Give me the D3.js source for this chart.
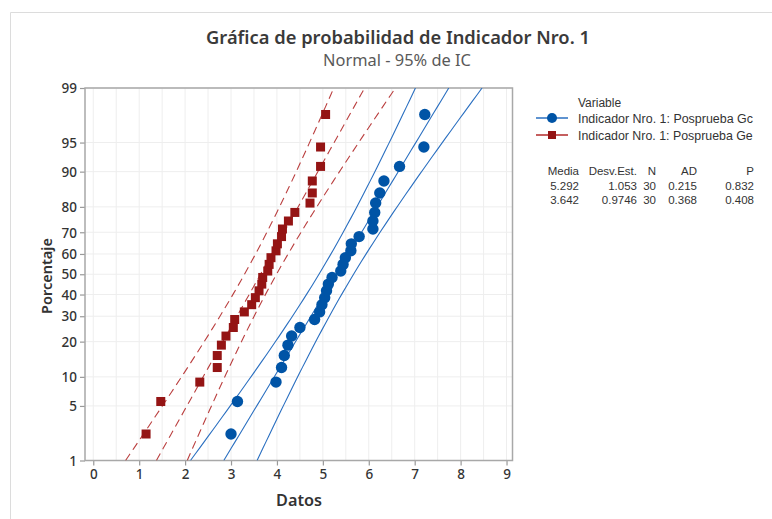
<!DOCTYPE html>
<html><head><meta charset="utf-8">
<script src="https://cdn.jsdelivr.net/npm/d3@7"></script>
<style>
html,body{margin:0;padding:0;background:#fff;}
text{font-family:"Noto Sans","Open Sans",sans-serif;}
</style></head>
<body><svg id="c" width="772" height="519"></svg>
<script>
// ---- data ----
const seriesNames = ["Indicador Nro. 1: Posprueba Gc", "Indicador Nro. 1: Posprueba Ge"];
const percentiles = [2.3, 5.6, 8.9, 12.2, 15.5, 18.8, 22.0, 25.3, 28.6, 31.9, 35.2, 38.5, 41.8, 45.1, 48.4,
                     51.6, 54.9, 58.2, 61.5, 64.8, 68.1, 71.4, 74.7, 78.0, 81.3, 84.5, 87.8, 91.1, 94.4, 97.7];
const gcValues = [3.00, 3.14, 3.98, 4.10, 4.16, 4.24, 4.32, 4.50, 4.82, 4.93, 4.98, 5.04, 5.08, 5.12, 5.20,
                  5.39, 5.44, 5.49, 5.61, 5.62, 5.79, 6.09, 6.09, 6.13, 6.15, 6.24, 6.33, 6.67, 7.20, 7.22];
const geValues = [1.15, 1.47, 2.32, 2.70, 2.70, 2.79, 2.89, 3.05, 3.08, 3.29, 3.45, 3.53, 3.61, 3.67, 3.69,
                  3.80, 3.83, 3.87, 3.98, 4.01, 4.10, 4.12, 4.25, 4.39, 4.72, 4.77, 4.77, 4.95, 4.95, 5.06];
const means = [5.292, 3.642];
const stdevs = [1.053, 0.9746];
const counts = [30, 30];
const adStats = [0.215, 0.368];
const pValues = [0.832, 0.408];
const statHeaders = ["Media", "Desv.Est.", "N", "AD", "P"];
const statRows = [["5.292", "1.053", "30", "0.215", "0.832"], ["3.642", "0.9746", "30", "0.368", "0.408"]];
const xTicks = [0, 1, 2, 3, 4, 5, 6, 7, 8, 9];
const yTicks = [1, 5, 10, 20, 30, 40, 50, 60, 70, 80, 90, 95, 99];
const colors = ["#0054a6", "#941414"];
const lineColors = ["#2a6fc0", "#b22a2a"];

// inverse normal CDF (Acklam)
function qnorm(p){
  const a=[-3.969683028665376e+01,2.209460984245205e+02,-2.759285104469687e+02,1.383577518672690e+02,-3.066479806614716e+01,2.506628277459239e+00];
  const b=[-5.447609879822406e+01,1.615858368580409e+02,-1.556989798598866e+02,6.680131188771972e+01,-1.328068155288572e+01];
  const c=[-7.784894002430293e-03,-3.223964580411365e-01,-2.400758277161838e+00,-2.549671500663394e+00,4.374664141464968e+00,2.938163982698783e+00];
  const d=[7.784695709041462e-03,3.224671290700398e-01,2.445134137142996e+00,3.754408661907416e+00];
  const pl=0.02425, ph=1-pl; let q,r;
  if(p<pl){q=Math.sqrt(-2*Math.log(p));return (((((c[0]*q+c[1])*q+c[2])*q+c[3])*q+c[4])*q+c[5])/((((d[0]*q+d[1])*q+d[2])*q+d[3])*q+1);}
  if(p<=ph){q=p-0.5;r=q*q;return (((((a[0]*r+a[1])*r+a[2])*r+a[3])*r+a[4])*r+a[5])*q/(((((b[0]*r+b[1])*r+b[2])*r+b[3])*r+b[4])*r+1);}
  q=Math.sqrt(-2*Math.log(1-p));return -(((((c[0]*q+c[1])*q+c[2])*q+c[3])*q+c[4])*q+c[5])/((((d[0]*q+d[1])*q+d[2])*q+d[3])*q+1);
}

const svg = d3.select("#c");
const L=85, R=512.5, T=88, B=460.5;
const x = d3.scaleLinear().domain([-0.18, 9.13]).range([L, R]);
const yz = d3.scaleLinear().domain([qnorm(0.01), qnorm(0.99)]).range([B, T]);
const y = p => yz(qnorm(p/100));

function fit(sel, w){
  const n = sel.node(); const fs = parseFloat(sel.attr("font-size"));
  const m = n.getComputedTextLength(); sel.attr("font-size", fs*w/m);
  return sel;
}

// outer frame
svg.append("path").attr("d","M10.5,519 V12.5 H772").attr("fill","none").attr("stroke","#dcdcdc").attr("stroke-width",1);

// title
fit(svg.append("text").attr("x",398).attr("y",44).attr("text-anchor","middle").attr("font-size",19)
  .attr("font-weight",600).attr("fill","#3a3a3a").text("Gráfica de probabilidad de Indicador Nro. 1"),384);
fit(svg.append("text").attr("x",397).attr("y",66).attr("text-anchor","middle").attr("font-size",15)
  .attr("fill","#595959").text("Normal - 95% de IC"),148);

// gridlines
const g = svg.append("g");
d3.range(0, 9.01, 0.5).forEach(v=>{
  g.append("line").attr("x1",x(v)).attr("x2",x(v)).attr("y1",T).attr("y2",B).attr("stroke","#eeeeee").attr("stroke-width",1);
});
yTicks.forEach(v=>{
  g.append("line").attr("x1",L).attr("x2",R).attr("y1",y(v)).attr("y2",y(v)).attr("stroke","#eeeeee").attr("stroke-width",1);
});

// axes
const xAxis = d3.axisBottom(x).tickValues(xTicks).tickSize(5).tickPadding(4).tickFormat(d3.format("d"));
const ax = svg.append("g").attr("transform",`translate(0,${B})`).call(xAxis);
const yAxis = d3.axisLeft(yz).tickValues(yTicks.map(v=>qnorm(v/100))).tickSize(5).tickPadding(3)
  .tickFormat((d,i)=>yTicks[i]);
const ay = svg.append("g").attr("transform",`translate(${L},0)`).call(yAxis);
[ax,ay].forEach(a=>{
  a.select(".domain").remove();
  a.selectAll(".tick line").attr("stroke","#999").attr("stroke-width",1.2);
  a.selectAll(".tick text").attr("font-size",13.5).attr("fill","#333").attr("font-weight",500)
    .style("font-family",'"Noto Sans",sans-serif');
});
ay.selectAll(".tick text").attr("dy","0.35em");
svg.append("rect").attr("x",L).attr("y",T).attr("width",R-L).attr("height",B-T)
  .attr("fill","none").attr("stroke","#a8a8a8").attr("stroke-width",1.5);

// axis labels
fit(svg.append("text").attr("x",299).attr("y",506).attr("text-anchor","middle").attr("font-size",16)
  .attr("font-weight",600).attr("fill","#333").text("Datos"),46);
fit(svg.append("text").attr("transform","translate(52,276) rotate(-90)").attr("text-anchor","middle").attr("font-size",16)
  .attr("font-weight",600).attr("fill","#333").text("Porcentaje"),76);

// clip
svg.append("clipPath").attr("id","clip").append("rect").attr("x",L).attr("y",T).attr("width",R-L).attr("height",B-T);
const plot = svg.append("g").attr("clip-path","url(#clip)");

// fit lines and CI bands
const zs = d3.range(0,61).map(i=>qnorm(0.01)+i*(qnorm(0.99)-qnorm(0.01))/60);
[0,1].forEach(s=>{
  const mu=means[s], sd=stdevs[s], n=counts[s];
  const mk = k => zs.map(z=>[mu+z*sd + k*1.96*sd*Math.sqrt((1+z*z/2)/n), z]);
  const line = d3.line().x(d=>x(d[0])).y(d=>yz(d[1]));
  [-1,0,1].forEach(k=>{
    plot.append("path").attr("d",line(mk(k))).attr("fill","none")
      .attr("stroke",lineColors[s]).attr("stroke-width",1.1)
      .attr("stroke-opacity", s===1 ? 0.9 : 1)
      .attr("stroke-dasharray", s===1 ? "8,5" : null);
  });
});

// points
plot.selectAll("rect.ge").data(geValues).join("rect").attr("class","ge")
  .attr("x",(d,i)=>x(d)-4.5).attr("y",(d,i)=>y(percentiles[i])-4.5).attr("width",9).attr("height",9)
  .attr("fill",colors[1]);
plot.selectAll("circle.gc").data(gcValues).join("circle").attr("class","gc")
  .attr("cx",d=>x(d)).attr("cy",(d,i)=>y(percentiles[i])).attr("r",5.7).attr("fill",colors[0]);

// legend
const tf = '"Liberation Sans",Arial,sans-serif';
const lg = svg.append("g");
lg.append("text").attr("x",578).attr("y",107).attr("font-size",12).style("font-family",tf).attr("fill","#333").text("Variable");
seriesNames.forEach((nm,i)=>{
  const yy = 118 + i*17;
  lg.append("line").attr("x1",536).attr("x2",568).attr("y1",yy).attr("y2",yy).attr("stroke",lineColors[i]).attr("stroke-width",1.5);
  if(i===0) lg.append("circle").attr("cx",552).attr("cy",yy).attr("r",5).attr("fill",colors[0]);
  else lg.append("rect").attr("x",548).attr("y",yy-4).attr("width",8).attr("height",8).attr("fill",colors[1]);
  fit(lg.append("text").attr("x",578).attr("y",yy+4.5).attr("font-size",12).style("font-family",tf).attr("fill","#333").text(nm),175);
});
const colRight = [579, 637, 656, 697, 754];
statHeaders.forEach((h,j)=>{
  lg.append("text").attr("x",colRight[j]).attr("y",175).attr("text-anchor","end").attr("font-size",11.5)
    .style("font-family",tf).attr("fill","#333").text(h);
});
statRows.forEach((row,i)=>{
  row.forEach((v,j)=>{
    lg.append("text").attr("x",colRight[j]).attr("y",190+i*13.5).attr("text-anchor","end").attr("font-size",11.5)
      .style("font-family",tf).attr("fill","#333").text(v);
  });
});
</script></body></html>
